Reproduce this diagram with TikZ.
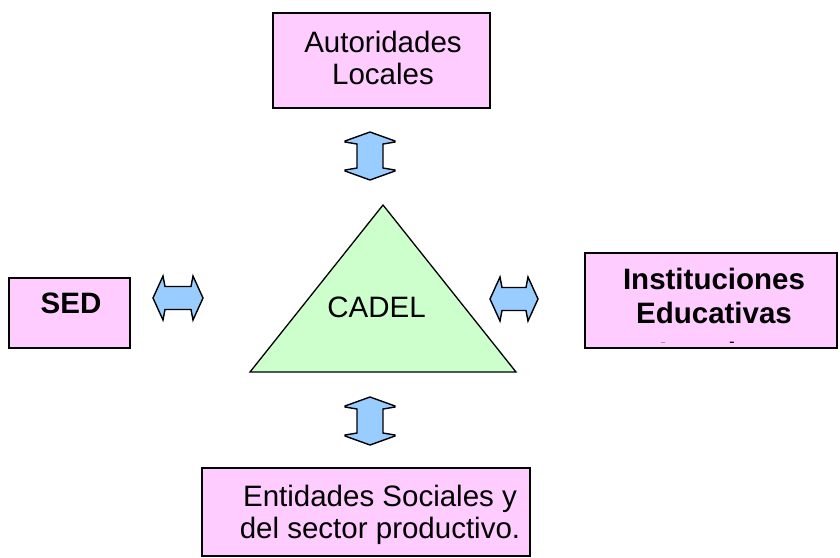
\documentclass[tikz,border=0pt]{standalone}
\usepackage{fontspec}
\setmainfont{Liberation Sans}
\definecolor{boxpink}{HTML}{FFCCFF}
\definecolor{trigreen}{HTML}{CCFFCC}
\definecolor{arrowblue}{HTML}{99CCFF}
\newcommand\myvarrow[3]{% cx, top tip, bottom tip
  \draw[arrowshape] (#1,#2) -- ++(25,9) -- ++(0,1) -- ($(#1+13,#2+12)$) -- ($(#1+13,#3-12)$) -- ($(#1+25,#3-10)$) -- ($(#1+25,#3-9)$) -- (#1,#3)
   -- ($(#1-25,#3-9)$) -- ($(#1-25,#3-10)$) -- ($(#1-13,#3-12)$) -- ($(#1-13,#2+12)$) -- ($(#1-25,#2+10)$) -- ($(#1-25,#2+9)$) -- cycle;}
\newcommand\myharrow[3]{% cy, left tip, right tip
  \draw[arrowshape] (#2,#1) -- ($(#2+10,#1-22)$) -- ($(#2+12,#1-11.5)$) -- ($(#3-12,#1-11.5)$) -- ($(#3-10,#1-22)$) -- (#3,#1)
   -- ($(#3-10,#1+22)$) -- ($(#3-12,#1+11.5)$) -- ($(#2+12,#1+11.5)$) -- ($(#2+10,#1+22)$) -- cycle;}
\usetikzlibrary{calc}
\begin{document}
\begin{tikzpicture}[x=1pt,y=-1pt,
  pinkbox/.style={draw=black,line width=1.6pt,fill=boxpink,rectangle,inner sep=0pt},
  boxtext/.style={font=\fontsize{29.5}{32}\selectfont,align=center,inner sep=0pt},
  arrowshape/.style={draw=black,line width=1.4pt,fill=arrowblue,line join=miter}]
\useasboundingbox (0,0) rectangle (840,557);
% boxes
\node[pinkbox,minimum width=217pt,minimum height=95pt] (top) at (381.5,60.5) {};
\node[boxtext] (toptext) at (383,58) {Autoridades\\Locales};
\node[pinkbox,minimum width=121pt,minimum height=70pt] (sed) at (69.5,313) {};
\node[boxtext,anchor=base,font=\fontsize{29.5}{32}\selectfont\bfseries] (sedtext) at (71,313) {SED};
\node[pinkbox,minimum width=252pt,minimum height=95pt] (inst) at (711,300.5) {};
\begin{scope}
  \clip (585.8,253.8) rectangle (836.2,342.5);
  \node[boxtext,font=\fontsize{29.5}{34}\selectfont\bfseries] (insttext) at (714,316.3) {Instituciones\\Educativas\\[6pt]Locales};
\end{scope}
\node[pinkbox,minimum width=328pt,minimum height=88pt] (bot) at (366,512) {};
\node[boxtext] (bottext) at (380,515) {Entidades Sociales y\\del sector productivo.};
% triangle
\coordinate (apex) at (383,205);
\coordinate (bl) at (250,372);
\coordinate (br) at (516,372);
\draw[fill=trigreen,line width=1.3pt,line join=miter] (apex) -- (br) -- (bl) -- cycle;
\node[boxtext,anchor=base] (cadel) at (376.5,317) {CADEL};
% double arrows
\myvarrow{370}{132}{180}
\myvarrow{370}{397}{445}
\myharrow{298}{153}{203}
\myharrow{299}{490}{538}
\end{tikzpicture}
\end{document}
